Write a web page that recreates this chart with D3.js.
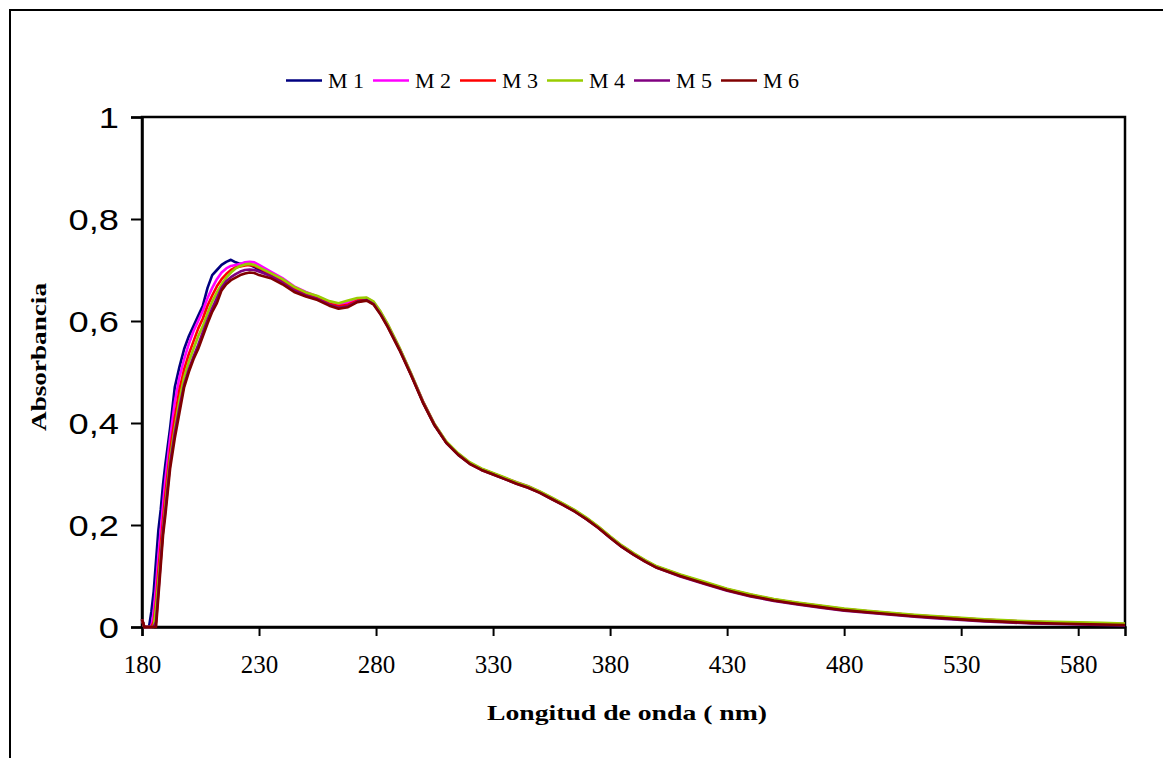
<!DOCTYPE html>
<html>
<head>
<meta charset="UTF-8" />
<script src="https://d3js.org/d3.v7.min.js"></script>
<style>
    body { margin: 0; background: #fff; }
</style>
</head>
<body>
<svg id="chart" width="1163" height="758"></svg>
<script>
// wavelengths (nm) shared by all samples
const wavelengths = [180, 181, 183, 184, 185, 186, 187, 188, 189, 190,
    192, 194, 196, 198, 200, 202, 204, 206, 208, 210, 212, 214, 216, 218, 220, 222, 224, 226, 228, 230,
    235, 240, 245, 250, 255, 260, 264, 268, 272, 276, 279, 282, 285, 290, 295, 300, 305, 310, 315, 320,
    325, 330, 335, 340, 345, 350, 355, 360, 365, 370, 375, 380, 385, 390, 395, 400, 410, 420, 430, 440,
    450, 460, 470, 480, 490, 500, 510, 520, 530, 540, 550, 560, 570, 580, 590, 600];

const m1 = [0.015, 0, 0, 0.03, 0.07, 0.13, 0.19, 0.23, 0.28, 0.32,
    0.39, 0.47, 0.51, 0.545, 0.57, 0.59, 0.61, 0.63, 0.665, 0.69, 0.70, 0.71, 0.716, 0.72, 0.715, 0.712, 0.712, 0.71, 0.706, 0.70,
    0.690, 0.678, 0.663, 0.652, 0.645, 0.634, 0.629, 0.633, 0.641, 0.643, 0.635, 0.615, 0.591, 0.546, 0.495, 0.442, 0.396, 0.362, 0.339, 0.321,
    0.309, 0.300, 0.291, 0.282, 0.274, 0.264, 0.252, 0.240, 0.227, 0.212, 0.195, 0.176, 0.158, 0.143, 0.129, 0.117, 0.101, 0.087, 0.073, 0.062,
    0.053, 0.046, 0.040, 0.034, 0.030, 0.026, 0.022, 0.019, 0.016, 0.013, 0.011, 0.009, 0.008, 0.007, 0.006, 0.005];

const m2 = [0.015, 0, 0, 0, 0.03, 0.08, 0.14, 0.19, 0.24, 0.29,
    0.37, 0.44, 0.49, 0.525, 0.555, 0.58, 0.60, 0.62, 0.645, 0.665, 0.682, 0.695, 0.703, 0.708, 0.71, 0.712, 0.715, 0.716, 0.715, 0.71,
    0.697, 0.684, 0.668, 0.657, 0.648, 0.637, 0.632, 0.636, 0.643, 0.645, 0.637, 0.617, 0.593, 0.547, 0.496, 0.443, 0.397, 0.363, 0.340, 0.322,
    0.310, 0.301, 0.292, 0.284, 0.276, 0.265, 0.253, 0.241, 0.228, 0.213, 0.196, 0.177, 0.159, 0.144, 0.130, 0.118, 0.102, 0.088, 0.074, 0.063,
    0.054, 0.047, 0.041, 0.035, 0.031, 0.027, 0.023, 0.020, 0.017, 0.014, 0.012, 0.010, 0.009, 0.008, 0.007, 0.006];

const m3 = [0.015, 0, 0, 0, 0.01, 0.05, 0.11, 0.16, 0.21, 0.26,
    0.345, 0.41, 0.465, 0.505, 0.535, 0.56, 0.585, 0.605, 0.63, 0.65, 0.668, 0.682, 0.692, 0.70, 0.705, 0.707, 0.709, 0.71, 0.708, 0.704,
    0.692, 0.679, 0.664, 0.653, 0.646, 0.634, 0.629, 0.632, 0.640, 0.642, 0.635, 0.615, 0.591, 0.546, 0.495, 0.442, 0.397, 0.362, 0.339, 0.322,
    0.310, 0.301, 0.292, 0.283, 0.275, 0.265, 0.253, 0.241, 0.228, 0.213, 0.196, 0.177, 0.159, 0.144, 0.130, 0.118, 0.102, 0.088, 0.074, 0.063,
    0.054, 0.047, 0.041, 0.035, 0.031, 0.027, 0.023, 0.020, 0.017, 0.014, 0.012, 0.010, 0.008, 0.007, 0.006, 0.005];

const m4 = [0.015, 0, 0, 0, 0, 0.04, 0.09, 0.14, 0.19, 0.24,
    0.33, 0.39, 0.445, 0.49, 0.52, 0.545, 0.57, 0.59, 0.615, 0.638, 0.656, 0.672, 0.685, 0.695, 0.703, 0.708, 0.711, 0.712, 0.71, 0.705,
    0.694, 0.682, 0.667, 0.656, 0.649, 0.639, 0.635, 0.640, 0.645, 0.646, 0.638, 0.618, 0.594, 0.548, 0.497, 0.443, 0.398, 0.364, 0.341, 0.323,
    0.311, 0.302, 0.293, 0.284, 0.276, 0.266, 0.254, 0.242, 0.229, 0.214, 0.197, 0.178, 0.160, 0.145, 0.131, 0.119, 0.103, 0.089, 0.075, 0.064,
    0.055, 0.048, 0.042, 0.036, 0.032, 0.028, 0.024, 0.021, 0.018, 0.015, 0.013, 0.011, 0.010, 0.009, 0.008, 0.007];

const m5 = [0.015, 0, 0, 0, 0, 0.01, 0.07, 0.13, 0.19, 0.23,
    0.32, 0.38, 0.43, 0.475, 0.505, 0.53, 0.553, 0.578, 0.602, 0.625, 0.645, 0.665, 0.678, 0.686, 0.692, 0.697, 0.70, 0.701, 0.70, 0.697,
    0.688, 0.675, 0.660, 0.650, 0.643, 0.632, 0.626, 0.629, 0.638, 0.641, 0.633, 0.613, 0.589, 0.544, 0.494, 0.441, 0.396, 0.361, 0.338, 0.320,
    0.308, 0.299, 0.290, 0.281, 0.273, 0.263, 0.251, 0.239, 0.226, 0.211, 0.194, 0.175, 0.157, 0.142, 0.128, 0.116, 0.099, 0.085, 0.071, 0.060,
    0.051, 0.044, 0.038, 0.032, 0.028, 0.024, 0.020, 0.017, 0.014, 0.011, 0.009, 0.007, 0.006, 0.005, 0.004, 0.003];

const m6 = [0.015, 0, 0, 0, 0, 0, 0.06, 0.12, 0.18, 0.22,
    0.31, 0.37, 0.42, 0.47, 0.50, 0.525, 0.545, 0.57, 0.595, 0.618, 0.635, 0.66, 0.672, 0.68, 0.685, 0.69, 0.693, 0.695, 0.694, 0.69,
    0.684, 0.672, 0.657, 0.648, 0.641, 0.630, 0.624, 0.627, 0.637, 0.640, 0.632, 0.612, 0.588, 0.543, 0.493, 0.440, 0.395, 0.361, 0.338, 0.320,
    0.308, 0.299, 0.290, 0.281, 0.273, 0.263, 0.251, 0.239, 0.226, 0.211, 0.194, 0.175, 0.157, 0.142, 0.128, 0.116, 0.100, 0.086, 0.072, 0.061,
    0.052, 0.045, 0.039, 0.033, 0.029, 0.025, 0.021, 0.018, 0.015, 0.012, 0.010, 0.008, 0.007, 0.006, 0.005, 0.004];

const seriesNames = ['M 1', 'M 2', 'M 3', 'M 4', 'M 5', 'M 6'];
const seriesValues = [m1, m2, m3, m4, m5, m6];
const seriesColors = ['#000080', '#ff00ff', '#ff0000', '#99cc00', '#800080', '#800000'];

const xTicks = [180, 230, 280, 330, 380, 430, 480, 530, 580];
const yTicks = [0, 0.2, 0.4, 0.6, 0.8, 1];
const yTickLabels = ['0', '0,2', '0,4', '0,6', '0,8', '1'];

const serifFont = "'Liberation Serif', Tinos, 'Times New Roman', Times, serif";
const sansFont = "'Liberation Sans', Arimo, Arial, Helvetica, sans-serif";

// setting up svg
const svg = d3.select('svg#chart');
const margins = {top: 117, left: 142};
const chartWidth = 983;
const chartHeight = 510;

// outer frame (chart area border)
svg.append('rect')
    .attr('x', 10).attr('y', 10)
    .attr('width', 1170).attr('height', 780)
    .attr('fill', 'none')
    .attr('stroke', '#000')
    .attr('stroke-width', 2);

const chartArea = svg.append('g')
    .attr('transform', `translate(${margins.left}, ${margins.top})`);

const xScale = d3.scaleLinear().domain([180, 600]).range([0, chartWidth]);
const yScale = d3.scaleLinear().domain([0, 1]).range([chartHeight, 0]);

// plot area border
chartArea.append('rect')
    .attr('x', 0).attr('y', 0)
    .attr('width', chartWidth).attr('height', chartHeight)
    .attr('fill', 'none')
    .attr('stroke', '#000')
    .attr('stroke-width', 2.5);

// x axis
const xAxis = chartArea.append('g')
    .attr('transform', `translate(0, ${chartHeight})`)
    .call(d3.axisBottom(xScale).tickValues(xTicks).tickSize(9).tickPadding(19).tickFormat(d3.format('d')));
xAxis.attr('font-family', null).attr('font-size', null);
xAxis.select('.domain').attr('stroke-width', 2.5);
xAxis.selectAll('.tick line').attr('stroke-width', 2);
xAxis.selectAll('text')
    .style('font-family', serifFont)
    .style('font-size', '25px')
    .attr('fill', '#000');

// y axis
const yAxis = chartArea.append('g')
    .call(d3.axisLeft(yScale).tickValues(yTicks).tickSize(11).tickFormat((d, i) => yTickLabels[i]));
yAxis.attr('font-family', null).attr('font-size', null);
yAxis.select('.domain').attr('stroke-width', 2.5);
yAxis.selectAll('.tick line').attr('stroke-width', 2);
yAxis.selectAll('text')
    .attr('x', 0)
    .attr('dy', '0.35em')
    .attr('transform', 'translate(-23, 0) scale(1.25, 1)')
    .style('font-family', sansFont)
    .style('font-size', '29px')
    .attr('fill', '#000');

// lines
const line = d3.line()
    .x((d, i) => xScale(wavelengths[i]))
    .y(d => yScale(d));

seriesValues.forEach((vals, i) => {
    chartArea.append('path')
        .datum(vals)
        .attr('d', line)
        .attr('fill', 'none')
        .attr('stroke', seriesColors[i])
        .attr('stroke-width', 2.6)
        .attr('stroke-linejoin', 'round');
});

// axis titles
svg.append('text')
    .attr('transform', 'translate(46, 357) rotate(-90)')
    .attr('text-anchor', 'middle')
    .attr('textLength', 148)
    .attr('lengthAdjust', 'spacingAndGlyphs')
    .style('font-family', serifFont)
    .style('font-size', '21px')
    .style('font-weight', 'bold')
    .text('Absorbancia');

svg.append('text')
    .attr('x', 627)
    .attr('y', 720)
    .attr('text-anchor', 'middle')
    .attr('textLength', 280)
    .attr('lengthAdjust', 'spacingAndGlyphs')
    .style('font-family', serifFont)
    .style('font-size', '21px')
    .style('font-weight', 'bold')
    .text('Longitud de onda ( nm)');

// legend
const legendX = d3.scalePoint().domain(seriesNames).range([286, 721]);
const legend = svg.append('g');
seriesNames.forEach((name, i) => {
    const x0 = legendX(name);
    legend.append('line')
        .attr('x1', x0).attr('x2', x0 + 36)
        .attr('y1', 80.5).attr('y2', 80.5)
        .attr('stroke', seriesColors[i])
        .attr('stroke-width', 2.5);
    legend.append('text')
        .attr('x', x0 + 42)
        .attr('y', 88)
        .style('font-family', serifFont)
        .style('font-size', '22px')
        .text(name);
});
</script>
</body>
</html>
